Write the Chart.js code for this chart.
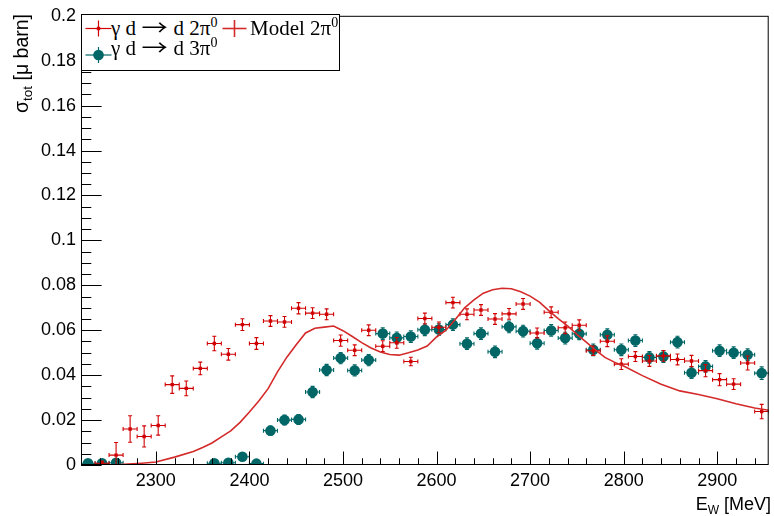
<!DOCTYPE html>
<html>
<head>
<meta charset="utf-8">
<script src="https://cdn.jsdelivr.net/npm/chart.js@4.4.0/dist/chart.umd.min.js"></script>
<style>
body{margin:0;background:#fff;}
#wrap{position:relative;width:774px;height:516px;}
#c{position:absolute;left:0;top:0;}
.ax{position:absolute;font-family:"Liberation Sans",Arial,sans-serif;font-size:18px;color:#000;white-space:nowrap;}
.ax sub{font-size:12px;vertical-align:-4px;}
#ytitle{left:0;top:0;width:200px;text-align:right;line-height:22px;font-size:19.5px;transform-origin:0 0;transform:translate(10px,214px) rotate(-90deg);}
#ytitle sub{font-size:13.5px;}
#xtitle{right:3px;top:493px;line-height:22px;}
#legend{position:absolute;left:81px;top:14px;width:259px;height:57px;box-sizing:border-box;border:1px solid #000;background:#fff;}
#legend svg{position:absolute;left:0;top:0;}
.lt{position:absolute;font-family:"Liberation Serif","Times New Roman",serif;font-size:21px;line-height:21px;white-space:nowrap;color:#000;}
.lt sup{font-size:14px;vertical-align:8px;line-height:0;}
.arr{display:inline-block;font-family:"Noto Sans CJK JP",sans-serif;line-height:0;transform:scaleX(1.25);margin:0 3px;}
</style>
</head>
<body>
<div id="wrap">
<canvas id="c" width="774" height="516"></canvas>
<div id="ytitle" class="ax">σ<sub>tot</sub> [μ barn]</div>
<div id="xtitle" class="ax">E<sub>W</sub> [MeV]</div>
<div id="legend">
<svg width="257" height="55">
<g stroke="#d00000" stroke-width="1.2">
<line x1="3.5" y1="13.5" x2="29.5" y2="13.5"/>
<line x1="16.5" y1="5.5" x2="16.5" y2="21.5"/>
</g>
<rect x="14.8" y="11.8" width="3.4" height="3.4" fill="#d00000"/>
<g stroke="#d42a2a" stroke-width="1.6">
<line x1="140.5" y1="13.5" x2="164.5" y2="13.5"/>
<line x1="152.5" y1="5" x2="152.5" y2="22"/>
</g>
<g stroke="#006666" stroke-width="1.2">
<line x1="3.5" y1="40" x2="29.5" y2="40"/>
<line x1="16.5" y1="32" x2="16.5" y2="48"/>
</g>
<circle cx="16.5" cy="40" r="5.3" fill="#006666"/>
</svg>
<span class="lt" style="left:29px;top:3px">γ d <span class="arr">→</span> d 2π<sup>0</sup></span>
<span class="lt" style="left:168px;top:3px">Model 2π<sup>0</sup></span>
<span class="lt" style="left:29px;top:23px">γ d <span class="arr">→</span> d 3π<sup>0</sup></span>
</div>
</div>
<script>
// bin centres [MeV]
const energy = [2227.5,2242.5,2257.5,2272.5,2287.5,2302.5,2317.5,2332.5,2347.5,2362.5,
2377.5,2392.5,2407.5,2422.5,2437.5,2452.5,2467.5,2482.5,2497.5,2512.5,
2527.5,2542.5,2557.5,2572.5,2587.5,2602.5,2617.5,2632.5,2647.5,2662.5,
2677.5,2692.5,2707.5,2722.5,2737.5,2752.5,2767.5,2782.5,2797.5,2812.5,
2827.5,2842.5,2857.5,2872.5,2887.5,2902.5,2917.5,2932.5,2947.5];
const binHalf = 7.5;

// gamma d -> d 2pi0
const sigma2pi = [null,0.0008,0.0044,0.0160,0.0127,0.0176,0.0358,0.0341,0.0430,0.0541,
0.0493,0.0625,0.0541,0.0641,0.0637,0.0698,0.0676,0.0671,0.0554,0.0511,
0.0600,0.0529,0.0544,0.0461,0.0652,0.0613,0.0723,0.0671,0.0690,0.0650,
0.0673,0.0717,0.0588,0.0680,0.0611,0.0622,0.0509,0.0551,0.0449,0.0483,
0.0463,0.0486,0.0470,0.0463,0.0420,0.0380,0.0360,0.0454,0.0238];
const err2pi = [null,0.0010,0.0056,0.0059,0.0047,0.0043,0.0039,0.0033,0.0028,0.0032,
0.0026,0.0026,0.0026,0.0024,0.0024,0.0025,0.0024,0.0024,0.0025,0.0024,
0.0024,0.0024,0.0024,0.0019,0.0024,0.0024,0.0024,0.0024,0.0024,0.0024,
0.0024,0.0024,0.0022,0.0024,0.0026,0.0024,0.0021,0.0024,0.0024,0.0022,
0.0024,0.0024,0.0024,0.0025,0.0027,0.0027,0.0024,0.0031,0.0032];

// gamma d -> d 3pi0
const sigma3pi = [0.0008,0.0008,0.0010,null,null,null,null,null,null,0.0008,
0.0010,0.0037,0.0006,0.0153,0.0200,0.0203,0.0325,0.0423,0.0476,0.0421,
0.0467,0.0585,0.0566,0.0572,0.0602,0.0603,0.0625,0.0540,0.0585,0.0504,
0.0615,0.0596,0.0542,0.0599,0.0565,0.0584,0.0513,0.0580,0.0513,0.0554,
0.0479,0.0483,0.0547,0.0411,0.0439,0.0509,0.0500,0.0491,0.0409];
const err3pi = [0.0010,0.0010,0.0010,null,null,null,null,null,null,0.0010,
0.0010,0.0012,0.0010,0.0020,0.0022,0.0022,0.0025,0.0025,0.0025,0.0025,
0.0025,0.0026,0.0026,0.0026,0.0026,0.0026,0.0026,0.0026,0.0026,0.0026,
0.0026,0.0026,0.0026,0.0026,0.0026,0.0026,0.0026,0.0026,0.0026,0.0026,
0.0026,0.0026,0.0026,0.0026,0.0026,0.0026,0.0026,0.0026,0.0028];

// model 2pi0 curve
const modelE = [2255,2270,2285,2300,2320,2340,2350,2360,2370,2380,2390,2400,2410,2420,2430,
2440,2450,2460,2470,2480,2490,2500,2510,2520,2530,2540,2550,2560,2570,2580,
2590,2600,2610,2620,2630,2640,2650,2660,2670,2680,2690,2700,2710,2720,2730,
2740,2750,2760,2770,2780,2790,2800,2820,2840,2860,2880,2900,2920,2940,2955];
const modelSigma = [0,0.0004,0.0008,0.0013,0.0035,0.0060,0.0078,0.0098,0.0125,0.0152,0.0190,0.0236,0.0285,0.0340,0.0415,
0.0480,0.0535,0.0588,0.0609,0.0614,0.0619,0.0598,0.0572,0.0545,0.0521,0.0503,0.0492,0.0489,0.0500,0.0512,
0.0530,0.0570,0.0600,0.0648,0.0700,0.0735,0.0765,0.0780,0.0787,0.0785,0.0771,0.0752,0.0725,0.0687,0.0652,
0.0620,0.0582,0.0547,0.0511,0.0479,0.0458,0.0441,0.0398,0.0360,0.0330,0.0314,0.0295,0.0273,0.0254,0.0244];

const xTicks = [2300,2400,2500,2600,2700,2800,2900];
const yTicks = [0,0.02,0.04,0.06,0.08,0.1,0.12,0.14,0.16,0.18,0.2];

const red = '#d00000';
const teal = '#006666';

function errorBars(chart, vals, errs, color){
  const xs = chart.scales.x, ys = chart.scales.y, ctx = chart.ctx, a = chart.chartArea;
  const cap = 2;
  ctx.save();
  ctx.beginPath();
  ctx.rect(a.left, a.top, a.right - a.left, a.bottom - a.top);
  ctx.clip();
  ctx.strokeStyle = color;
  ctx.lineWidth = 1.1;
  ctx.beginPath();
  energy.forEach((e, i) => {
    const v = vals[i];
    if (v == null) return;
    const px = xs.getPixelForValue(e), py = ys.getPixelForValue(v);
    const x0 = xs.getPixelForValue(e - binHalf), x1 = xs.getPixelForValue(e + binHalf);
    const y0 = ys.getPixelForValue(v - errs[i]), y1 = ys.getPixelForValue(v + errs[i]);
    ctx.moveTo(x0, py); ctx.lineTo(x1, py);
    ctx.moveTo(x0, py - cap); ctx.lineTo(x0, py + cap);
    ctx.moveTo(x1, py - cap); ctx.lineTo(x1, py + cap);
    ctx.moveTo(px, y0); ctx.lineTo(px, y1);
    ctx.moveTo(px - cap, y0); ctx.lineTo(px + cap, y0);
    ctx.moveTo(px - cap, y1); ctx.lineTo(px + cap, y1);
  });
  ctx.stroke();
  ctx.restore();
}

const rootFrame = {
  id: 'rootFrame',
  beforeDatasetDraw(chart, args){
    if (args.index === 0) errorBars(chart, sigma3pi, err3pi, teal);
    if (args.index === 1) errorBars(chart, sigma2pi, err2pi, red);
  },
  afterDatasetsDraw(chart){
    const ctx = chart.ctx, a = chart.chartArea, xs = chart.scales.x, ys = chart.scales.y;
    const w = a.right - a.left, h = a.bottom - a.top;
    ctx.save();
    ctx.strokeStyle = '#000';
    ctx.lineWidth = 1;
    ctx.strokeRect(a.left + 0.5, a.top + 0.5, w - 1, h - 1);
    ctx.beginPath();
    // y ticks
    for (let v = 0; v <= 0.2001; v += 0.005) {
      const y = Math.round(ys.getPixelForValue(v)) + 0.5;
      const major = Math.abs(v / 0.02 - Math.round(v / 0.02)) < 1e-6;
      ctx.moveTo(a.left, y); ctx.lineTo(a.left + (major ? w * 0.03 : w * 0.015), y);
    }
    // x ticks
    for (let v = 2240; v <= xs.max; v += 20) {
      const x = Math.round(xs.getPixelForValue(v)) + 0.5;
      const major = v % 100 === 0;
      ctx.moveTo(x, a.bottom); ctx.lineTo(x, a.bottom - (major ? h * 0.03 : h * 0.015));
    }
    ctx.stroke();
    ctx.restore();
  }
};

new Chart(document.getElementById('c'), {
  type: 'scatter',
  data: {
    datasets: [
      {
        label: 'γ d → d 3π0',
        data: energy.map((e, i) => ({x: e, y: sigma3pi[i]})),
        pointStyle: 'circle', pointRadius: 5.3, pointBackgroundColor: teal, pointBorderWidth: 0,
        order: 3
      },
      {
        label: 'γ d → d 2π0',
        data: energy.map((e, i) => ({x: e, y: sigma2pi[i]})),
        pointStyle: 'rect', pointRadius: 2.4, pointBackgroundColor: red, pointBorderWidth: 0,
        order: 2
      },
      {
        label: 'Model 2π0',
        type: 'line',
        data: modelE.map((e, i) => ({x: e, y: modelSigma[i]})),
        showLine: true, borderColor: '#d42a2a', borderWidth: 1.6, pointRadius: 0, tension: 0, fill: false,
        order: 1
      }
    ]
  },
  options: {
    responsive: false,
    animation: false,
    devicePixelRatio: 1,
    layout: {padding: {top: 14, right: 3, left: 0, bottom: 0}},
    plugins: {legend: {display: false}, tooltip: {enabled: false}},
    scales: {
      x: {
        type: 'linear', min: 2220, max: 2955,
        grid: {display: false, drawTicks: false},
        border: {display: false},
        ticks: {color: '#000', font: {family: 'Liberation Sans', size: 18}, padding: 5, maxRotation: 0, autoSkip: false,
          callback: v => String(v)},
        afterBuildTicks: s => { s.ticks = xTicks.map(v => ({value: v})); },
        afterFit: s => { s.height = 51; }
      },
      y: {
        type: 'linear', min: 0, max: 0.2,
        grid: {display: false, drawTicks: false},
        border: {display: false},
        ticks: {color: '#000', font: {family: 'Liberation Sans', size: 18}, padding: 5, autoSkip: false,
          callback: v => v === 0 ? '0' : String(+v.toFixed(2))},
        afterBuildTicks: s => { s.ticks = yTicks.map(v => ({value: v})); },
        afterFit: s => { s.width = 81; }
      }
    }
  },
  plugins: [rootFrame]
});
</script>
</body>
</html>
